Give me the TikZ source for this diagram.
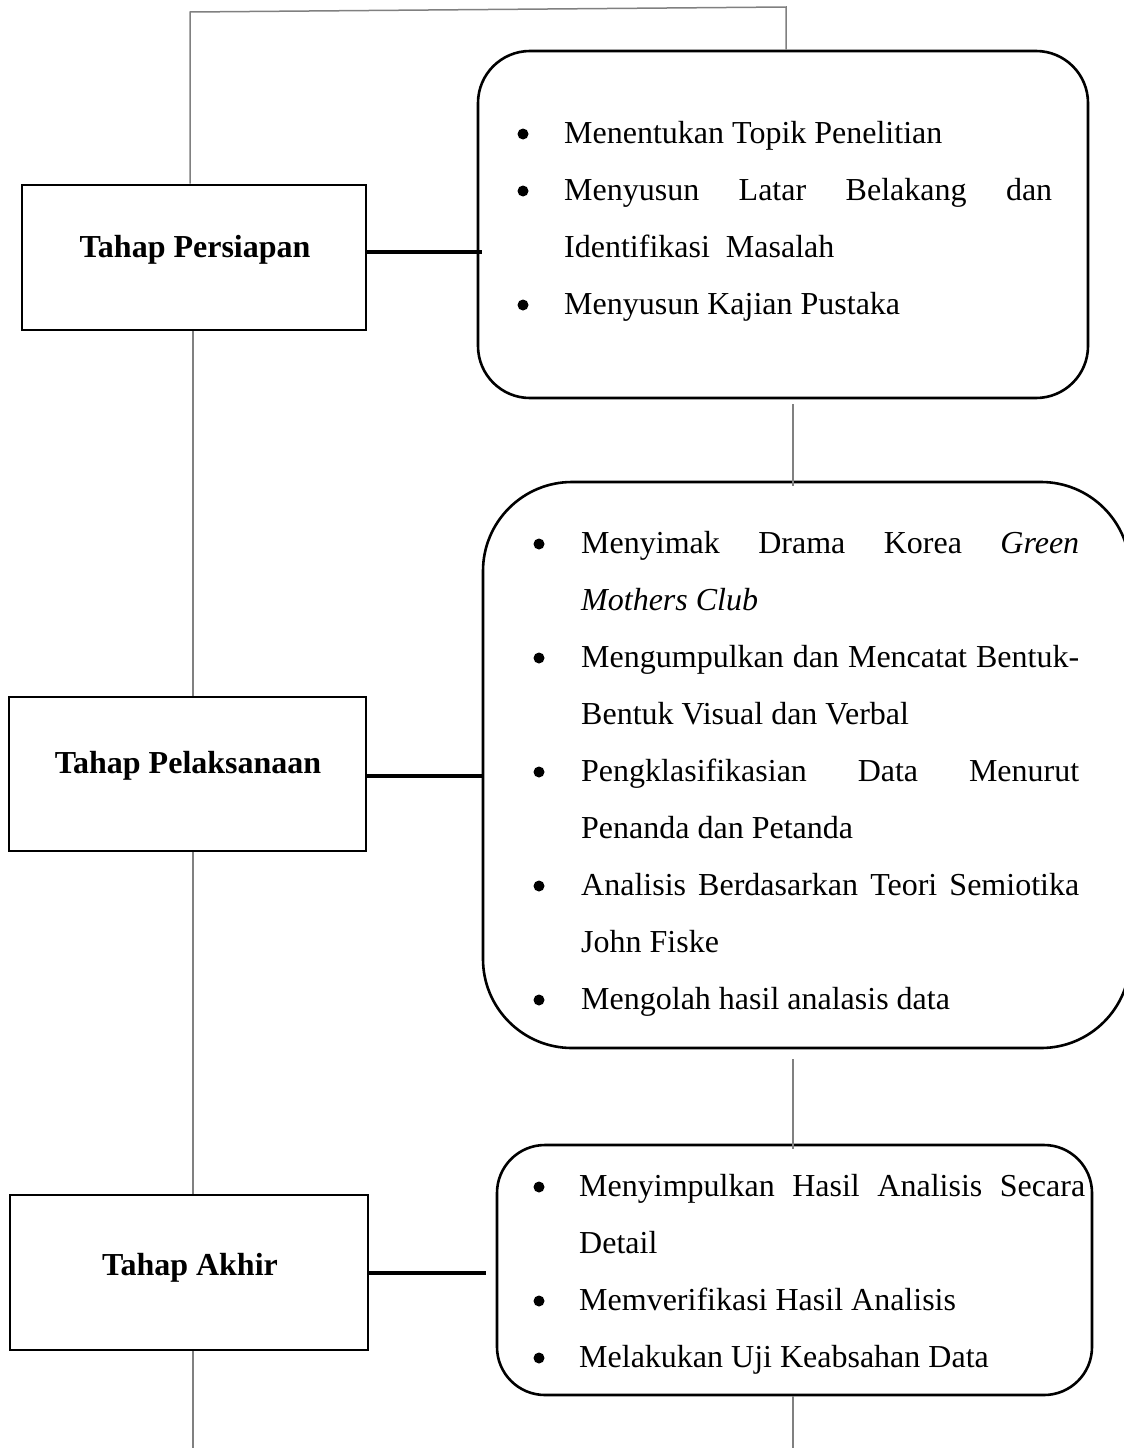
\documentclass[tikz,border=0pt]{standalone}
\usepackage{fontspec}
\setmainfont{Liberation Serif}
\begin{document}
\begin{tikzpicture}[x=1pt,y=-1pt,
  lbox/.style={draw=black, line width=2.6pt, rectangle, inner sep=0pt},
  rbox/.style={draw=black, line width=2.6pt, rectangle, inner sep=0pt},
  conn/.style={draw=black, line width=3.6pt},
  gline/.style={draw=black!50, line width=1.5pt},
  lbl/.style={anchor=base, inner sep=0pt, font=\fontsize{32}{38}\selectfont\bfseries},
  ln/.style={anchor=base west, inner sep=0pt, font=\fontsize{32}{38}\selectfont},
  bul/.style={fill=black, circle, inner sep=0pt, minimum size=11pt}
]
\clip (0,0) rectangle (1124,1448);
\fill[white] (0,0) rectangle (1124,1448);

% left boxes
\node[lbox, minimum width=344pt, minimum height=145pt] (A) at (194,257.5) {};
\node[lbox, minimum width=357pt, minimum height=154pt] (B) at (187.5,774) {};
\node[lbox, minimum width=358pt, minimum height=155pt] (C) at (189,1272.5) {};
\node[lbl] (Atxt) at (195,257) {Tahap Persiapan};
\node[lbl] (Btxt) at (188,773) {Tahap Pelaksanaan};
\node[lbl] (Ctxt) at (190,1275) {Tahap Akhir};

% rounded boxes
\node[rbox, rounded corners=52pt, minimum width=610pt, minimum height=347pt] (R1) at (783,224.5) {};
\node[rbox, rounded corners=89pt, minimum width=647pt, minimum height=566pt] (R2) at (806.5,765) {};
\node[rbox, rounded corners=48pt, minimum width=595pt, minimum height=250pt] (R3) at (794.5,1270) {};

% horizontal thick connectors
\draw[conn] (A.east |- 0,252) -- ([xshift=5pt]R1.west |- 0,252);
\draw[conn] (B.east |- 0,776) -- ([xshift=1pt]R2.west |- 0,776);
\draw[conn] (C.east |- 0,1273) -- ([xshift=-10pt]R3.west |- 0,1273);

% gray connectors
\coordinate (t1) at (190,12);
\coordinate (t2) at (786,7);
\coordinate (bl) at (193,1448);
\coordinate (br) at (793,1448);
\draw[gline] (A.north -| t1) -- (t1) -- (t2) -- (R1.north -| t2);
\draw[gline] (A.south -| bl) -- (B.north -| bl);
\draw[gline] (B.south -| bl) -- (C.north -| bl);
\draw[gline] (C.south -| bl) -- (bl);
\draw[gline] ([yshift=-5pt]R1.south -| br) -- ([yshift=-5pt]R2.north -| br);
\draw[gline] ([yshift=-10pt]R2.south -| br) -- ([yshift=-5pt]R3.north -| br);
\draw[gline] (R3.south -| br) -- (br);

% box 1 text
\node[bul] (b11) at (523,134) {};
\node[ln] (l11) at (564,143) {Menentukan Topik Penelitian};
\node[bul] (b12) at (523,191) {};
\node[ln] (l12) at (564,200) {\makebox[488pt][s]{Menyusun Latar Belakang dan}};
\node[ln] (l13) at (564,257) {Identifikasi\ \ Masalah};
\node[bul] (b13) at (523,305) {};
\node[ln] (l14) at (564,314) {Menyusun Kajian Pustaka};

% box 2 text
\node[bul] (b21) at (539,544) {};
\node[ln] (l21) at (581,553) {\makebox[498pt][s]{Menyimak Drama Korea \textit{Green}}};
\node[ln] (l22) at (581,610) {\textit{Mothers Club}};
\node[bul] (b22) at (539,658) {};
\node[ln] (l23) at (581,667) {\makebox[498pt][s]{Mengumpulkan dan Mencatat Bentuk-}};
\node[ln] (l24) at (581,724) {Bentuk Visual dan Verbal};
\node[bul] (b23) at (539,772) {};
\node[ln] (l25) at (581,781) {\makebox[498pt][s]{Pengklasifikasian Data Menurut}};
\node[ln] (l26) at (581,838) {Penanda dan Petanda};
\node[bul] (b24) at (539,886) {};
\node[ln] (l27) at (581,895) {\makebox[498pt][s]{Analisis Berdasarkan Teori Semiotika}};
\node[ln] (l28) at (581,952) {John Fiske};
\node[bul] (b25) at (539,1000) {};
\node[ln] (l29) at (581,1009) {Mengolah hasil analasis data};

% box 3 text
\node[bul] (b31) at (539,1187) {};
\node[ln] (l31) at (579,1196) {\makebox[506pt][s]{Menyimpulkan Hasil Analisis Secara}};
\node[ln] (l32) at (579,1253) {Detail};
\node[bul] (b32) at (539,1301) {};
\node[ln] (l33) at (579,1310) {Memverifikasi Hasil Analisis};
\node[bul] (b33) at (539,1358) {};
\node[ln] (l34) at (579,1367) {Melakukan Uji Keabsahan Data};
\end{tikzpicture}
\end{document}
